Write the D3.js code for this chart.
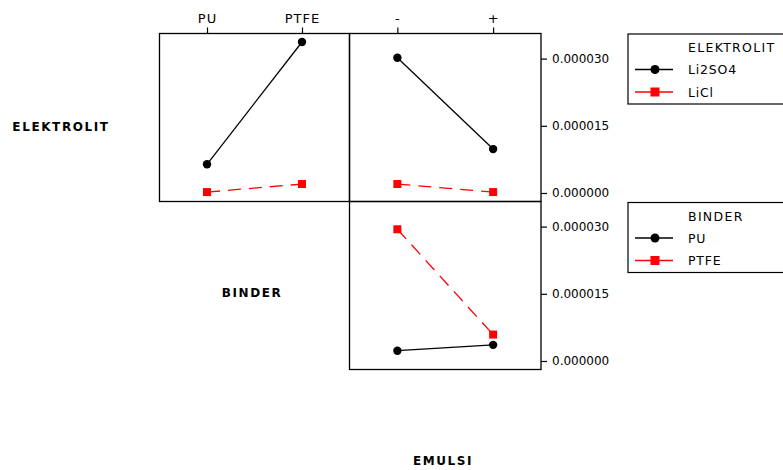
<!DOCTYPE html>
<html>
<head>
<meta charset="utf-8">
<script src="https://cdn.jsdelivr.net/npm/d3@7"></script>
<style>
  html, body { margin: 0; padding: 0; background: #fff; }
  svg { display: block; font-family: "DejaVu Sans", Verdana, sans-serif; }
</style>
</head>
<body>
<svg id="chart" width="783" height="470"></svg>
<script>
// Factor levels
const elektrolitLevels = ["Li2SO4", "LiCl"];
const binderLevels = ["PU", "PTFE"];
const emulsiLevels = ["-", "+"];

// Mean responses per factor combination
const li2so4ByBinder = [6.4e-6, 33.7e-6];
const liclByBinder = [0.2e-6, 2.0e-6];
const li2so4ByEmulsi = [30.2e-6, 9.8e-6];
const liclByEmulsi = [2.0e-6, 0.2e-6];
const puByEmulsi = [2.3e-6, 3.6e-6];
const ptfeByEmulsi = [29.4e-6, 5.9e-6];

const yTicks = [0, 0.000015, 0.000030];
const yDomain = [-1.9e-6, 35.6e-6];

const svg = d3.select("#chart");

// Grid edges shared by neighbouring panels
const colEdges = [159.5, 349.5, 541];
const rowEdges = [33.5, 201.5, 369.5];

const styles = [
  { color: "#000", dash: null, shape: "circle" },
  { color: "#ff0000", dash: "13,8", shape: "square" }
];

function panel(col, row, levels, seriesList, showTopAxis) {
  const x0 = colEdges[col], y0 = rowEdges[row];
  const w = colEdges[col + 1] - x0, h = rowEdges[row + 1] - y0;
  const g = svg.append("g").attr("transform", `translate(${x0},${y0})`);
  const x = d3.scalePoint().domain(levels).range([0, w]).padding(0.5);
  const y = d3.scaleLinear().domain(yDomain).range([h, 0]);

  seriesList.forEach((vals, i) => {
    const st = styles[i];
    const pts = levels.map((l, j) => [x(l), y(vals[j])]);
    g.append("path")
      .attr("d", d3.line()(pts))
      .attr("fill", "none")
      .attr("stroke", st.color)
      .attr("stroke-width", 1.3)
      .attr("stroke-dasharray", st.dash);
    pts.forEach(p => {
      if (st.shape === "circle") {
        g.append("circle").attr("cx", p[0]).attr("cy", p[1]).attr("r", 4.2).attr("fill", st.color);
      } else {
        g.append("rect").attr("x", p[0] - 4).attr("y", p[1] - 4)
          .attr("width", 8).attr("height", 8).attr("fill", st.color);
      }
    });
  });

  g.append("rect").attr("width", w).attr("height", h)
    .attr("fill", "none").attr("stroke", "#000").attr("stroke-width", 1.3);

  if (showTopAxis) {
    const ax = g.append("g").call(d3.axisTop(x).tickSize(6).tickPadding(5));
    ax.select(".domain").remove();
    ax.selectAll("line").attr("stroke-width", 1.2);
    ax.selectAll("text").attr("font-size", 13).attr("letter-spacing", 1)
      .attr("font-family", "DejaVu Sans, sans-serif").attr("fill", "#000");
  }
  if (col === 1) {
    const ay = g.append("g").attr("transform", `translate(${w},0)`)
      .call(d3.axisRight(y).tickValues(yTicks).tickFormat(d3.format(".6f")).tickSize(6).tickPadding(5));
    ay.select(".domain").remove();
    ay.selectAll("line").attr("stroke-width", 1.2);
    ay.selectAll("text").attr("font-size", 12)
      .attr("font-family", "DejaVu Sans, sans-serif").attr("fill", "#000");
  }
}

panel(0, 0, binderLevels, [li2so4ByBinder, liclByBinder], true);
panel(1, 0, emulsiLevels, [li2so4ByEmulsi, liclByEmulsi], true);
panel(1, 1, emulsiLevels, [puByEmulsi, ptfeByEmulsi], false);

// Factor names
const factorLabels = [
  { text: "ELEKTROLIT", x: 61, y: 127 },
  { text: "BINDER", x: 252, y: 293 },
  { text: "EMULSI", x: 443, y: 461 }
];
svg.selectAll("text.factor").data(factorLabels).join("text")
  .attr("class", "factor")
  .attr("x", d => d.x).attr("y", d => d.y)
  .attr("text-anchor", "middle").attr("dominant-baseline", "central")
  .attr("font-size", 12).attr("font-weight", "bold").attr("letter-spacing", 1.6)
  .text(d => d.text);

// Legends
function legend(top, title, levels) {
  const g = svg.append("g").attr("transform", `translate(628,${top})`);
  g.append("rect").attr("width", 170).attr("height", 70)
    .attr("fill", "#fff").attr("stroke", "#000").attr("stroke-width", 1.2);
  g.append("text").attr("x", 60).attr("y", 18).attr("font-size", 12.5)
    .attr("letter-spacing", 1.3).text(title);
  levels.forEach((l, i) => {
    const st = styles[i];
    const cy = 35.5 + i * 22.5;
    g.append("line").attr("x1", 7).attr("x2", 45).attr("y1", cy).attr("y2", cy)
      .attr("stroke", st.color).attr("stroke-width", 1.3);
    if (st.shape === "circle") {
      g.append("circle").attr("cx", 27).attr("cy", cy).attr("r", 4.5).attr("fill", st.color);
    } else {
      g.append("rect").attr("x", 22.5).attr("y", cy - 4.5).attr("width", 9).attr("height", 9).attr("fill", st.color);
    }
    g.append("text").attr("x", 60).attr("y", cy).attr("dominant-baseline", "central")
      .attr("font-size", 12.5).attr("letter-spacing", 0.8).text(l);
  });
}
legend(34, "ELEKTROLIT", elektrolitLevels);
legend(202.5, "BINDER", binderLevels);
</script>
</body>
</html>
